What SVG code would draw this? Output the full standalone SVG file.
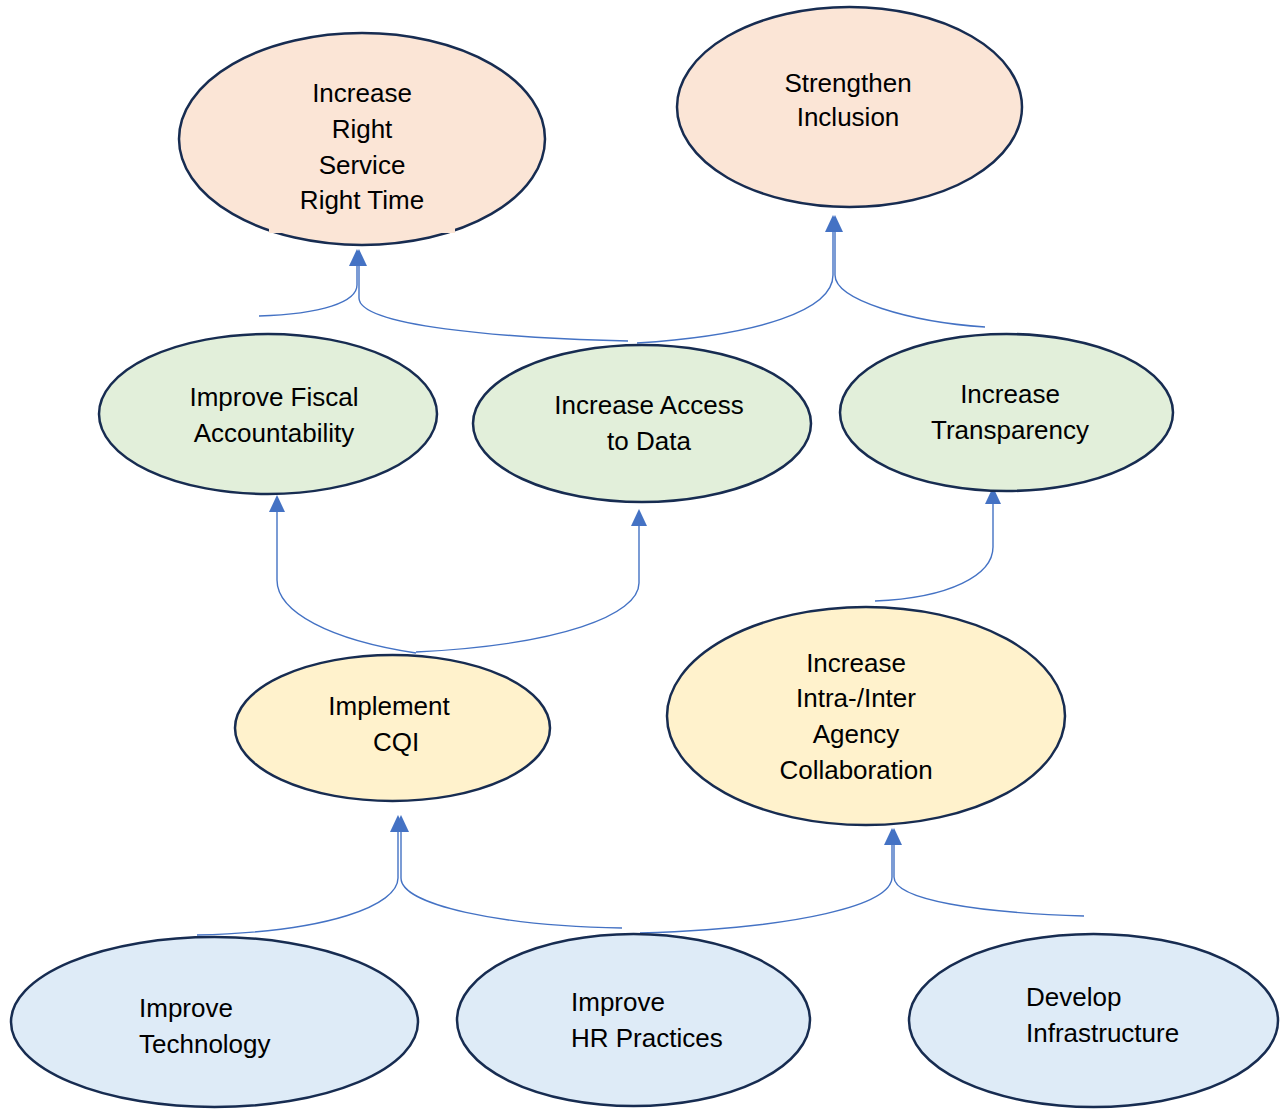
<svg xmlns="http://www.w3.org/2000/svg" width="1283" height="1109" viewBox="0 0 1283 1109">
<style>
.n{stroke:#172C51;stroke-width:2.5}
.pink{fill:#FBE5D6}.green{fill:#E2EFDA}.yellow{fill:#FFF2CC}.blue{fill:#DEEBF7}
text{font-family:"Liberation Sans",Arial,sans-serif;font-size:26px;fill:#000}
.c{text-anchor:middle}
.e{fill:none;stroke:#4472C4;stroke-width:1.4;marker-end:url(#arr)}
</style>
<defs>
<marker id="arr" markerUnits="userSpaceOnUse" viewBox="0 0 17 16" refX="0" refY="8" markerWidth="17" markerHeight="16" orient="auto">
<path d="M0,0 L17,8 L0,16 z" fill="#4472C4"/>
</marker>
</defs>
<rect width="1283" height="1109" fill="#fff"/>
<g id="connectors">
<path class="e" d="M259,316 C322,314 357,302 357,285 L357,266"/>
<path class="e" d="M628,341 C500,338 359,326 359,298 L359,266"/>
<path class="e" d="M637,343 C760,335 833,310 833,275 L833,232"/>
<path class="e" d="M985,327 C910,322 835,300 835,275 L835,232"/>
<path class="e" d="M416,653 C330,640 277,612 277,580 L277,512"/>
<path class="e" d="M416,652 C560,645 639,615 639,583 L639,526"/>
<path class="e" d="M875,601 C950,598 993,575 993,547 L993,504"/>
<path class="e" d="M197,935 C330,932 398,905 398,878 L398,832"/>
<path class="e" d="M622,928 C500,926 401,905 401,878 L401,832"/>
<path class="e" d="M640,933 C800,928 892,905 892,877 L892,845"/>
<path class="e" d="M1084,916 C980,913 894,900 894,877 L894,845"/>
</g>
<g id="right-service">
<ellipse class="n pink" cx="362" cy="139" rx="183" ry="106"/>
<rect x="269" y="70" width="186" height="163" fill="#FBE5D6"/>
<text class="c" x="362" y="102">Increase</text>
<text class="c" x="362" y="138">Right</text>
<text class="c" x="362" y="174">Service</text>
<text class="c" x="362" y="209">Right Time</text>
</g>
<g id="inclusion">
<ellipse class="n pink" cx="849.5" cy="107" rx="172.5" ry="100"/>
<text class="c" x="848" y="92">Strengthen</text>
<text class="c" x="848" y="126">Inclusion</text>
</g>
<g id="fiscal">
<ellipse class="n green" cx="268" cy="414" rx="169" ry="80"/>
<text class="c" x="274" y="406">Improve Fiscal</text>
<text class="c" x="274" y="442">Accountability</text>
</g>
<g id="access">
<ellipse class="n green" cx="642" cy="423.5" rx="169" ry="78.5"/>
<text class="c" x="649" y="414">Increase Access</text>
<text class="c" x="649" y="450">to Data</text>
</g>
<g id="transparency">
<ellipse class="n green" cx="1006.5" cy="412.5" rx="166.5" ry="78.5"/>
<text class="c" x="1010" y="403">Increase</text>
<text class="c" x="1010" y="439">Transparency</text>
</g>
<g id="cqi">
<ellipse class="n yellow" cx="392.5" cy="728" rx="157.5" ry="73"/>
<text class="c" x="389" y="715">Implement</text>
<text class="c" x="396" y="751">CQI</text>
</g>
<g id="collaboration">
<ellipse class="n yellow" cx="866" cy="716" rx="199" ry="109"/>
<text class="c" x="856" y="672">Increase</text>
<text class="c" x="856" y="707">Intra-/Inter</text>
<text class="c" x="856" y="743">Agency</text>
<text class="c" x="856" y="779">Collaboration</text>
</g>
<g id="technology">
<ellipse class="n blue" cx="214.5" cy="1022" rx="203.5" ry="85"/>
<text x="139" y="1017">Improve</text>
<text x="139" y="1053">Technology</text>
</g>
<g id="hr">
<ellipse class="n blue" cx="633.5" cy="1020" rx="176.5" ry="86"/>
<text x="571" y="1011">Improve</text>
<text x="571" y="1047">HR Practices</text>
</g>
<g id="infrastructure">
<ellipse class="n blue" cx="1093.5" cy="1020.5" rx="184.5" ry="86.5"/>
<text x="1026" y="1006">Develop</text>
<text x="1026" y="1042">Infrastructure</text>
</g>
</svg>
